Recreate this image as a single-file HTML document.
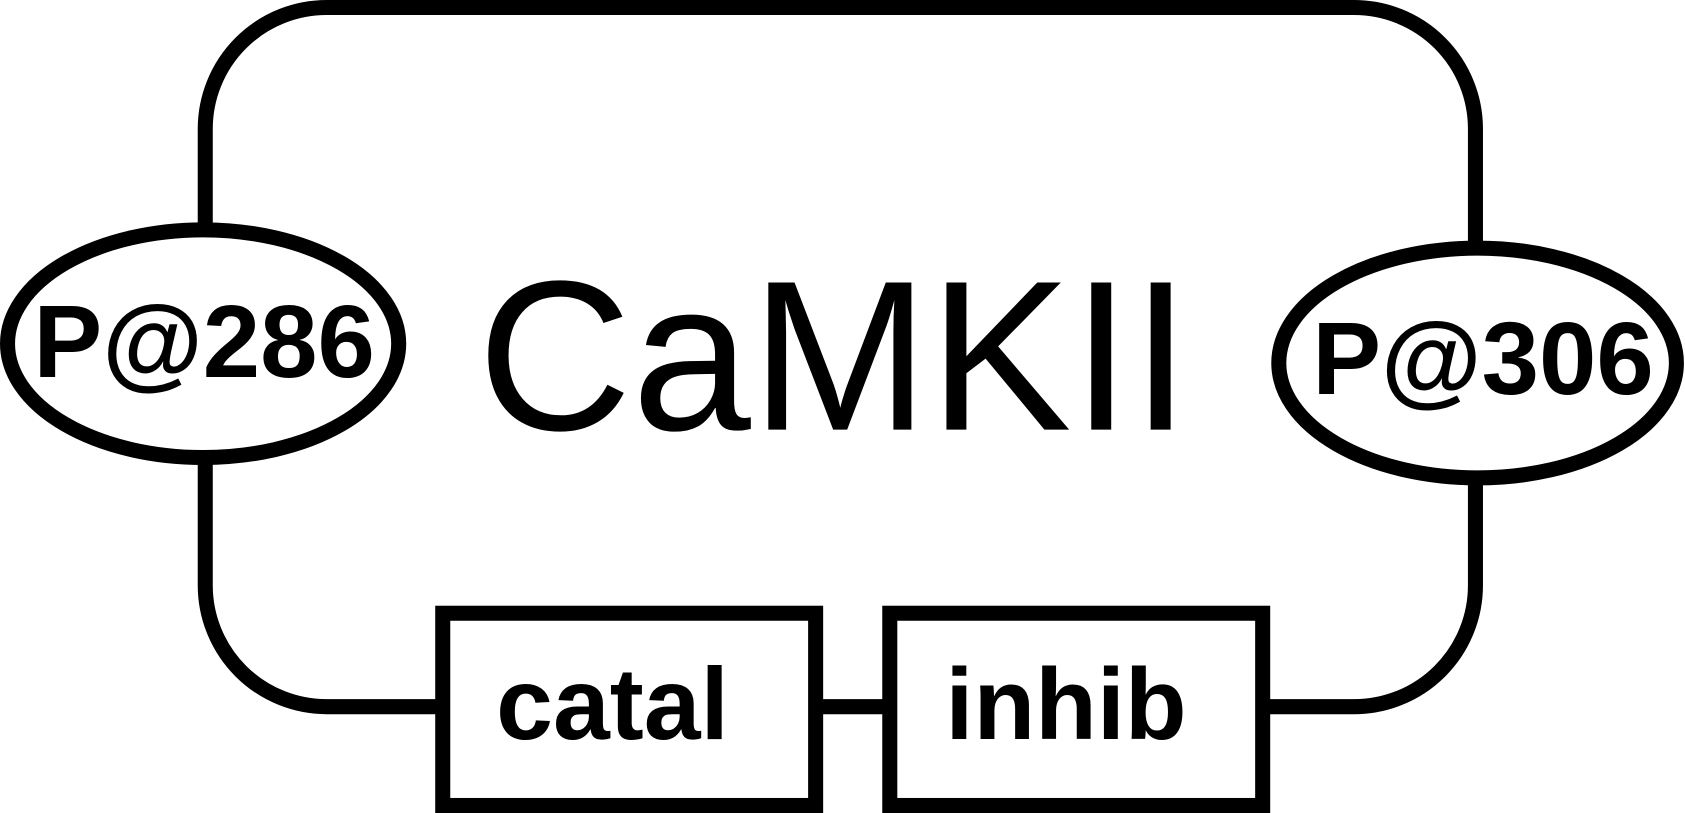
<!DOCTYPE html>
<html><head><style>html,body{margin:0;padding:0;background:#fff;overflow:hidden}svg{display:block}</style></head>
<body>
<svg width="1685" height="813" viewBox="0 0 1568 757" preserveAspectRatio="none" xmlns="http://www.w3.org/2000/svg">
<g fill="none" stroke="#000" stroke-width="14">
<path d="M191 214 V120 A113 113 0 0 1 304 7 H1260 A113 113 0 0 1 1373 120 V231"/>
<path d="M191 426 V545 A113 113 0 0 0 304 658 H412"/>
<path d="M1373 445 V545 A113 113 0 0 1 1260 658 H1175"/>
<path d="M759 658 H828"/>
<ellipse cx="189" cy="320" rx="182" ry="106" fill="#fff"/>
<ellipse cx="1375" cy="338" rx="185" ry="107" fill="#fff"/>
<rect x="412" y="571" width="347" height="179" fill="#fff"/>
<rect x="828" y="571" width="347" height="179" fill="#fff"/>
</g>
<g font-family="Liberation Sans, sans-serif" fill="#000" text-anchor="middle">
<text x="776" y="400" font-size="199">CaMKII</text>
<text x="190" y="351" font-size="96" font-weight="bold">P@286</text>
<text x="1380" y="367" font-size="96" font-weight="bold">P@306</text>
<text x="570" y="688" font-size="95" font-weight="bold">catal</text>
<text x="992" y="688" font-size="94" font-weight="bold">inhib</text>
</g>
</svg>
</body></html>
